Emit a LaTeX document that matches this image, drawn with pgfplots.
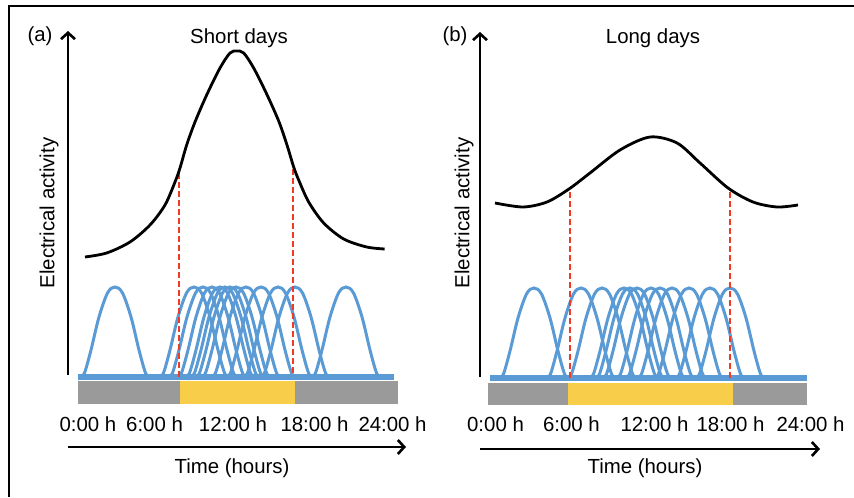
\documentclass[border=0pt]{standalone}
\usepackage{fontspec}
\setmainfont{Liberation Sans}
\usepackage{xcolor}
\usepackage{pgfplots}
\pgfplotsset{compat=1.18}
\usepackage{pgfplotstable}
\usetikzlibrary{arrows.meta}

\definecolor{cellblue}{HTML}{5B9BD5}
\definecolor{dashred}{HTML}{F03A24}
\definecolor{nightgray}{HTML}{9A9A9A}
\definecolor{dayyellow}{HTML}{F8CD4A}

% shape of one neuron's activity bump, offset (h) from its peak
\pgfplotstableread{
dh    y
-2.60 0
-2.29 4
-1.80 27
-1.20 60
-0.56 84
0.00  90
0.56  84
1.20  60
1.80  27
2.29  4
2.60  0
}\bumpshape

% population (envelope) activity
\pgfplotstableread{
h      y
0.525  120
2.15   124
3.9    135
5.4    152
6.525  172
7.275  195
7.65   209
8.15   232
8.775  255
9.65   282
10.65  309
11.4   324
11.9   326
12.425 324
13.175 309
14.15  283
15.05  256
15.65  233
16.175 210
16.55  197
17.3   175
18.425 154
19.925 138
21.65  130
23.0   128
}\shortenv

\pgfplotstableread{
h      y
0.525  175
2.625  171
4.425  176
6.075  189
7.65   205
9.9    228
12.15  241
14.175 235
15.9   215
18.0   190
19.875 176
21.675 171
23.25  173
}\longenv

\tikzset{
  every node/.append style={font=\fontsize{10.2}{12}\selectfont},
  ax/.style={black, line width=1.3pt, -{Straight Barb[length=3.2pt,width=7pt]}},
}
\pgfplotsset{
  panel/.style={hide axis, clip=false, anchor=origin,
    x=6.6667pt, y=0.5pt, xmin=-5.25, xmax=26.2, ymin=-120, ymax=371},
  bump/.style={cellblue, line width=1.5pt, smooth, tension=0.55, no marks},
  env/.style={black, line width=1.4pt, smooth, tension=0.5, no marks},
  cut/.style={dashred, line width=1.1pt, dash pattern=on 3pt off 1.5pt, no marks},
}

\begin{document}
\begin{tikzpicture}[x=0.5pt,y=0.5pt]

% (a) short days
\begin{axis}[panel, at={(39pt,60pt)}]
\addplot[fill=nightgray, draw=none] coordinates {(0,-4) (24,-4) (24,-27) (0,-27)} -- cycle;
\addplot[fill=dayyellow, draw=none] coordinates {(7.65,-4) (16.3,-4) (16.3,-27) (7.65,-27)} -- cycle;
\pgfplotsinvokeforeach{2.775,8.7,9.375,10.05,10.65,11.025,11.4,11.85,12.6,13.725,15.0,16.275,20.1}{
  \addplot[bump] table[x expr=\thisrow{dh}+#1, y=y] {\bumpshape};
}
\addplot[cellblue, line width=2.6pt, no marks] coordinates {(0,0) (23.7,0)};
\addplot[cut] coordinates {(7.575,0) (7.575,207)};
\addplot[cut] coordinates {(16.125,4) (16.125,209)};
\addplot[env] table[x=h, y=y] {\shortenv};
\draw[ax] (axis cs:-0.75,2) -- (axis cs:-0.75,346);
\draw[ax] (axis cs:-0.75,-70) -- (axis cs:24.6,-70);
\node at (axis cs:-2.85,341) {(a)};
\node at (axis cs:12.075,339) {Short days};
\node[rotate=90] at (axis cs:-2.175,164) {Electrical activity};
\node at (axis cs:0.75,-47) {0:00 h};
\node at (axis cs:5.74,-47) {6:00 h};
\node at (axis cs:11.625,-47) {12:00 h};
\node at (axis cs:17.74,-47) {18:00 h};
\node at (axis cs:23.59,-47) {24:00 h};
\node at (axis cs:11.55,-91) {Time (hours)};
\end{axis}

% (b) long days
\begin{axis}[panel, at={(244pt,59.5pt)}]
\addplot[fill=nightgray, draw=none] coordinates {(0,-5) (23.9,-5) (23.9,-27) (0,-27)} -- cycle;
\addplot[fill=dayyellow, draw=none] coordinates {(6.0,-5) (18.4,-5) (18.4,-27) (6.0,-27)} -- cycle;
\pgfplotsinvokeforeach{3.45,6.975,8.55,10.2,10.65,11.175,12.225,12.9,13.8,15.075,16.65,18.15}{
  \addplot[bump] table[x expr=\thisrow{dh}+#1, y=y] {\bumpshape};
}
\addplot[cellblue, line width=2.6pt, no marks] coordinates {(0.15,0) (23.9,0)};
\addplot[cut] coordinates {(6.15,0) (6.15,187)};
\addplot[cut] coordinates {(18.15,0) (18.15,187)};
\addplot[env] table[x=h, y=y] {\longenv};
\draw[ax] (axis cs:-0.6,1) -- (axis cs:-0.6,346);
\draw[ax] (axis cs:-0.6,-71) -- (axis cs:24.9,-71);
\node at (axis cs:-2.475,342) {(b)};
\node at (axis cs:12.375,340) {Long days};
\node[rotate=90] at (axis cs:-1.8,165) {Electrical activity};
\node at (axis cs:0.5625,-46.5) {0:00 h};
\node at (axis cs:6.26,-46.5) {6:00 h};
\node at (axis cs:12.49,-46.5) {12:00 h};
\node at (axis cs:18.19,-46.5) {18:00 h};
\node at (axis cs:24.19,-46.5) {24:00 h};
\node at (axis cs:11.775,-90) {Time (hours)};
\end{axis}

% outer frame (left and top edges)
\draw[black, line width=1pt] (9,0) -- (9,491) -- (854,491);
\pgfresetboundingbox
\useasboundingbox (0,0) rectangle (854,497);
\end{tikzpicture}
\end{document}
